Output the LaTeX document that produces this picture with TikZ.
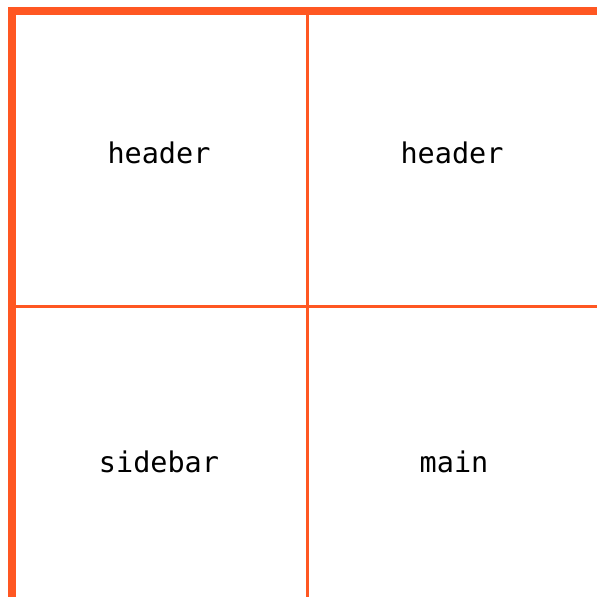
\documentclass[tikz,border=0pt]{standalone}
\usepackage{fontspec}
\newfontfamily\gridmono{DejaVu Sans Mono}
\definecolor{gridorange}{HTML}{FF5722}
\begin{document}
\begin{tikzpicture}[x=1pt,y=-1pt,
  thickrule/.style={draw=gridorange,line width=8pt},
  thinrule/.style={draw=gridorange,line width=3pt},
  celltext/.style={font=\gridmono\fontsize{28.5}{28.5}\selectfont,text=black,anchor=base,inner sep=0pt}]
\useasboundingbox[fill=white] (0,0) rectangle (597,597);
\coordinate (tl) at (8,11);
\coordinate (tr) at (597,11);
\coordinate (lt) at (12,7);
\coordinate (lb) at (12,597);
\coordinate (vt) at (307,11);
\coordinate (vb) at (307,597);
\coordinate (hl) at (12,306);
\coordinate (hr) at (597,306);
\draw[thinrule] (vt) -- (vb);
\draw[thinrule] (hl) -- (hr);
\draw[thickrule] (tl) -- (tr);
\draw[thickrule] (lt) -- (lb);
\node[celltext] (h1) at (159,163) {header};
\node[celltext] (h2) at (452,163) {header};
\node[celltext] (sb) at (159,472) {sidebar};
\node[celltext] (mn) at (454,472) {main};
\end{tikzpicture}
\end{document}
